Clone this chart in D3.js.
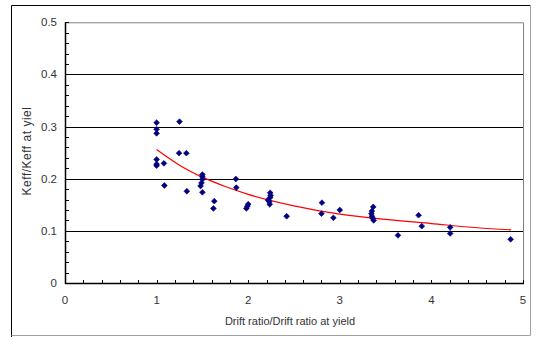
<!DOCTYPE html>
<html><head><meta charset="utf-8">
<script src="https://cdn.jsdelivr.net/npm/d3@7"></script>
<style>body{margin:0;background:#fff}svg{display:block}text{font-family:"Liberation Sans",Arial,sans-serif}</style>
</head><body><svg id="c" width="537" height="337"></svg>
<script>
const ptX = [1,1,1,1,1,1,1.08,1.085,1.25,1.245,1.325,1.33,
  1.5,1.5,1.5,1.49,1.48,1.5,1.63,1.62,1.865,1.87,2.0,1.99,1.98,
  2.24,2.245,2.24,2.215,2.23,2.235,2.42,2.805,2.8,2.93,3.0,
  3.365,3.35,3.345,3.35,3.36,3.37,3.635,3.86,3.895,4.205,4.205,4.865];
const ptY = [0.3075,0.295,0.287,0.237,0.228,0.225,0.2295,0.187,0.3095,0.249,0.249,0.176,
  0.208,0.204,0.199,0.192,0.186,0.174,0.157,0.143,0.1995,0.183,0.151,0.147,0.143,
  0.173,0.168,0.164,0.159,0.156,0.151,0.128,0.154,0.133,0.125,0.140,
  0.146,0.138,0.133,0.128,0.124,0.120,0.0914,0.130,0.109,0.1068,0.095,0.0838];
const fitX = [1,1.25,1.5,1.75,2,2.5,3,3.5,4,4.5,4.87];
const fitY = [0.256,0.226,0.203,0.185,0.170,0.148,0.132,0.122,0.114,0.106,0.102];
const xTicks = [0,1,2,3,4,5];
const yTicks = [0,0.1,0.2,0.3,0.4,0.5];
const yTickLabels = ["0","0.1","0.2","0.3","0.4","0.5"];
const xTitle = "Drift ratio/Drift ratio at yield";
const yTitle = "Keff/Keff at yiel";

const svg = d3.select("#c");
const L=65, R=523, T=22.3, B=283;
const x = d3.scaleLinear().domain([0,5]).range([L,R]);
const y = d3.scaleLinear().domain([0,0.5]).range([B,T]);

// outer frame
svg.append("path").attr("d","M11.5,337 V5.5 H530.5").attr("stroke","#000").attr("fill","none");
svg.append("path").attr("d","M530.5,5.5 V335.5 H11.5").attr("stroke","#a0a0a0").attr("fill","none");

// plot border (top/right gray)
svg.append("path").attr("d",`M${L},${T+0.5} H${R+0.5} V${B}`).attr("stroke","#808080").attr("fill","none");

// gridlines
svg.append("g").selectAll("line").data(yTicks.filter(v=>v>0&&v<0.5)).join("line")
  .attr("x1",L).attr("x2",R).attr("y1",d=>Math.round(y(d))+0.5).attr("y2",d=>Math.round(y(d))+0.5)
  .attr("stroke","#000");

// y axis
const yMinor = d3.range(0,0.5001,0.02);
svg.append("g").selectAll("line").data(yMinor).join("line")
  .attr("x1",L).attr("x2",L+4).attr("y1",d=>Math.round(y(d))+0.5).attr("y2",d=>Math.round(y(d))+0.5).attr("stroke","#000");
svg.append("line").attr("x1",L+0.5).attr("x2",L+0.5).attr("y1",T).attr("y2",B+1).attr("stroke","#000").attr("stroke-width",1.5);
svg.append("g").selectAll("text").data(yTicks).join("text")
  .attr("x",57).attr("y",d=>y(d)+4).attr("text-anchor","end").attr("font-size",11.5).attr("fill","#333")
  .text((d,i)=>yTickLabels[i]);

// x axis
const xMinor = d3.range(0,5.001,0.2);
svg.append("g").selectAll("line").data(xMinor).join("line")
  .attr("x1",d=>Math.round(x(d))+0.5).attr("x2",d=>Math.round(x(d))+0.5).attr("y1",B).attr("y2",B-3).attr("stroke","#000");
svg.append("line").attr("x1",L).attr("x2",R+1).attr("y1",B+0.5).attr("y2",B+0.5).attr("stroke","#000").attr("stroke-width",1.5);
svg.append("g").selectAll("text").data(xTicks).join("text")
  .attr("x",d=>x(d)).attr("y",304).attr("text-anchor","middle").attr("font-size",11.5).attr("fill","#333")
  .text(d=>d);

// titles
svg.append("text").attr("x",290).attr("y",325).attr("text-anchor","middle").attr("font-size",11).attr("fill","#333").text(xTitle);
svg.append("text").attr("transform","translate(31,151) rotate(-90)").attr("text-anchor","middle").attr("font-size",12).attr("letter-spacing",0.5).attr("fill","#333").text(yTitle);

// fit line
const line = d3.line().x((d,i)=>x(fitX[i])).y((d,i)=>y(fitY[i])).curve(d3.curveMonotoneX);
svg.append("path").attr("d",line(fitY)).attr("fill","none").attr("stroke","#ff0000").attr("stroke-width",1.2);

// points
svg.append("g").selectAll("path").data(ptX).join("path")
  .attr("transform",(d,i)=>`translate(${x(d)},${y(ptY[i])})`)
  .attr("d","M0,-2.9 L2.9,0 L0,2.9 L-2.9,0 Z")
  .attr("fill","#000080").attr("stroke","#000080").attr("stroke-width",0.6);
</script></body></html>
